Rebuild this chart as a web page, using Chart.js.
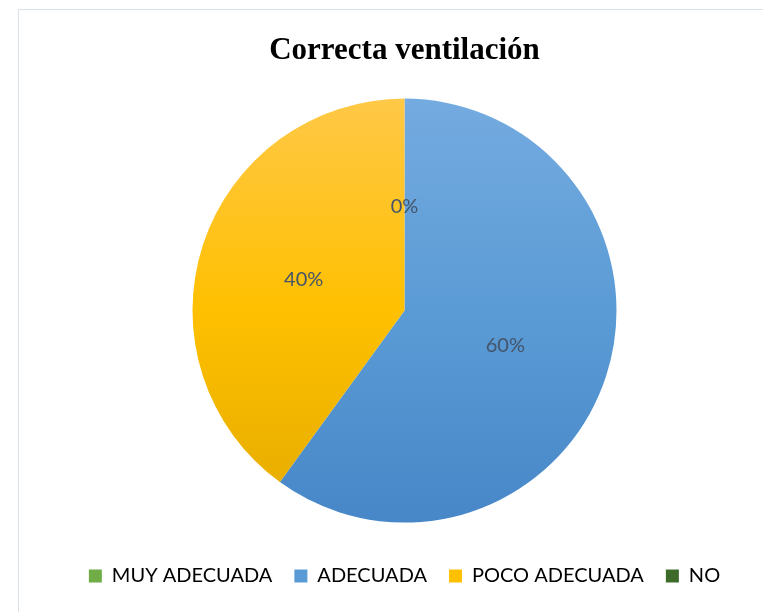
<!DOCTYPE html>
<html>
<head>
<meta charset="utf-8">
<script src="https://cdn.jsdelivr.net/npm/chart.js@4.4.0/dist/chart.umd.min.js"></script>
<style>
  html, body { margin: 0; padding: 0; background: #fff; }
  body { width: 763px; height: 612px; overflow: hidden; position: relative; }
  .frame { position: absolute; left: 18px; top: 9px; right: -2px; bottom: -2px;
           border-left: 1px solid #dbe1e8; border-top: 1px solid #dbe1e8; }
  .box { position: absolute; left: 46px; top: 10px; width: 717px; height: 602px; }
</style>
</head>
<body>
<div class="frame"></div>
<div class="box"><canvas id="pie"></canvas></div>
<script>
"use strict";
var categories = ['MUY ADECUADA', 'ADECUADA', 'POCO ADECUADA', 'NO'];
var shares = [0, 60, 40, 0];
var swatches = ['#70ad47', '#5b9bd5', '#ffc000', '#3e6b2a'];
// top / middle / bottom stops for the shaded slices
var shadeTop = ['#8cc168', '#74abe0', '#ffc847', '#4c7a36'];
var shadeMid = ['#70ad47', '#5b9bd5', '#ffc000', '#3e6b2a'];
var shadeBottom = ['#5e9a38', '#4787c8', '#e4ab00', '#2f5520'];

function sliceFill(ctx) {
    var chart = ctx.chart, area = chart.chartArea, i = ctx.dataIndex;
    if (!area) return swatches[i];
    var arc = chart.getDatasetMeta(0).data[i];
    var cy = arc && arc.y ? arc.y : (area.top + area.bottom) / 2;
    var r = arc && arc.outerRadius ? arc.outerRadius : 212;
    var g = chart.ctx.createLinearGradient(0, cy - r, 0, cy + r);
    g.addColorStop(0, shadeTop[i]);
    g.addColorStop(0.5, shadeMid[i]);
    g.addColorStop(1, shadeBottom[i]);
    return g;
}

var pctLabels = {
    id: 'pctLabels',
    afterDatasetsDraw: function (chart) {
        var c = chart.ctx;
        var seen = {};
        c.save();
        c.font = '20px Lato, "Open Sans", sans-serif';
        c.fillStyle = '#44546a';
        c.textAlign = 'center';
        c.textBaseline = 'middle';
        chart.getDatasetMeta(0).data.forEach(function (arc, i) {
            var p = arc.getCenterPoint();
            var key = Math.round(p.x) + ',' + Math.round(p.y) + ',' + shares[i];
            if (seen[key]) return;   // zero slices at the same angle share one label
            seen[key] = true;
            c.fillText(shares[i] + '%', p.x, p.y + 2);
        });
        c.restore();
    }
};

new Chart(document.getElementById('pie'), {
    type: 'pie',
    data: {
        labels: categories,
        datasets: [{ data: shares, backgroundColor: sliceFill, borderWidth: 0, radius: 212 }]
    },
    options: {
        responsive: true,
        maintainAspectRatio: false,
        animation: false,
        layout: { padding: { top: 0, bottom: 16 } },
        plugins: {
            title: {
                display: true,
                text: 'Correcta ventilación',
                color: '#000',
                font: { family: '"Liberation Serif", "DejaVu Serif", serif', size: 31, weight: 'bold' },
                padding: { top: 22, bottom: 8 }
            },
            legend: {
                position: 'bottom',
                labels: {
                    boxWidth: 13,
                    boxHeight: 13,
                    padding: 22,
                    color: '#4a5a70',
                    font: { family: 'Lato, "Open Sans", sans-serif', size: 20 },
                    generateLabels: function (chart) {
                        return categories.map(function (name, i) {
                            return { text: name, fillStyle: swatches[i], strokeStyle: swatches[i], lineWidth: 0, hidden: false, index: i };
                        });
                    }
                }
            },
            tooltip: { enabled: false }
        }
    },
    plugins: [pctLabels]
});
</script>
</body>
</html>
